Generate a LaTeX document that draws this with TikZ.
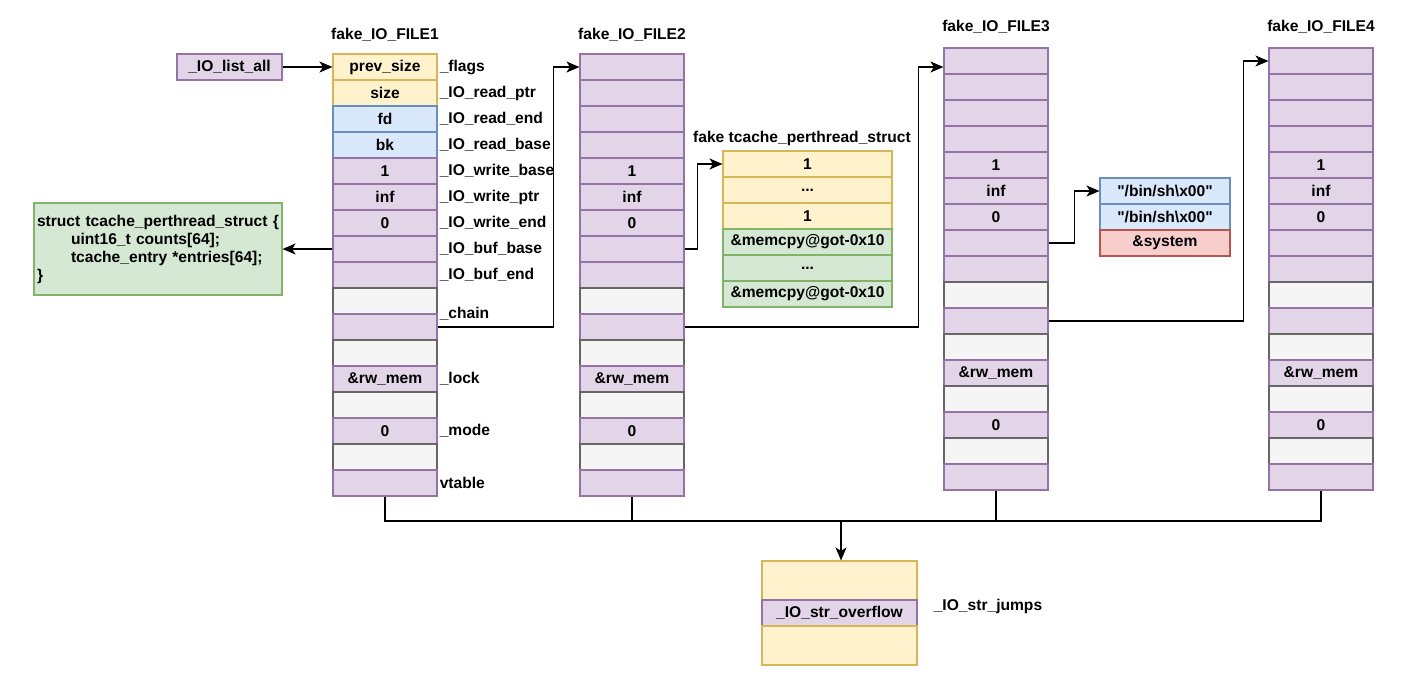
\documentclass[tikz,border=0pt]{standalone}
\usepackage{fontspec}
\setmainfont{Liberation Sans}
\usetikzlibrary{arrows.meta}

\definecolor{purfill}{HTML}{E1D5E7}
\definecolor{purline}{HTML}{9673A6}
\definecolor{yelfill}{HTML}{FFF2CC}
\definecolor{yelline}{HTML}{D6B656}
\definecolor{blufill}{HTML}{DAE8FC}
\definecolor{bluline}{HTML}{6C8EBF}
\definecolor{grnfill}{HTML}{D5E8D4}
\definecolor{grnline}{HTML}{82B366}
\definecolor{redfill}{HTML}{F8CECC}
\definecolor{redline}{HTML}{B85450}
\definecolor{gryfill}{HTML}{F5F5F5}
\definecolor{gryline}{HTML}{666666}

\newcommand\skipdots{...}

\tikzset{
  cell/.style={draw, line width=1.1pt, minimum width=104pt, minimum height=26pt, inner sep=0pt},
  pur/.style={cell, fill=purfill, draw=purline},
  yel/.style={cell, fill=yelfill, draw=yelline},
  blu/.style={cell, fill=blufill, draw=bluline},
  grn/.style={cell, fill=grnfill, draw=grnline},
  red/.style={cell, fill=redfill, draw=redline},
  gry/.style={cell, fill=gryfill, draw=gryline},
  fld/.style={anchor=west, inner sep=2pt},
  link/.style={line width=1.1pt, -{Stealth[length=13pt,width=11pt,inset=3.5pt]}},
  wire/.style={line width=1.1pt},
}

\begin{document}
\begin{tikzpicture}[x=1pt,y=-1pt,font=\fontsize{15.6}{18}\selectfont\bfseries]
\useasboundingbox (0,0) rectangle (1421,673);

% the four fake FILE structures
\foreach \sty/\txt [count=\i] in {yel/prev\_size, yel/size, blu/fd, blu/bk, pur/1, pur/inf, pur/0, pur/{}, pur/{},
    gry/{}, pur/{}, gry/{}, pur/\&rw\_mem, gry/{}, pur/0, gry/{}, pur/{}}
  \node[\sty] (f1-\i) at (385,41+26*\i) {\txt};
\foreach \f/\x/\y in {2/632/54, 3/996/48, 4/1321/48}
  \foreach \sty/\txt [count=\i] in {pur/{}, pur/{}, pur/{}, pur/{}, pur/1, pur/inf, pur/0, pur/{}, pur/{},
      gry/{}, pur/{}, gry/{}, pur/\&rw\_mem, gry/{}, pur/0, gry/{}, pur/{}}
    \node[\sty] (f\f-\i) at (\x,\y-13+26*\i) {\txt};

\node (t1) at (385,35) {fake\_IO\_FILE1};
\node (t2) at (632,35) {fake\_IO\_FILE2};
\node (t3) at (996,27) {fake\_IO\_FILE3};
\node (t4) at (1321,27) {fake\_IO\_FILE4};

% field names
\foreach \i/\txt in {1/\_flags, 2/\_IO\_read\_ptr, 3/\_IO\_read\_end, 4/\_IO\_read\_base, 5/\_IO\_write\_base,
    6/\_IO\_write\_ptr, 7/\_IO\_write\_end, 8/\_IO\_buf\_base, 9/\_IO\_buf\_end, 13/\_lock, 15/\_mode, 17/vtable}
  \node[fld] (l\i) at (f1-\i.east) {\txt};
\node[fld] (lchain) at (f1-11.north east) {\_chain};

% _IO_list_all and the real tcache struct
\node[pur, minimum width=105pt] (listall) at (229.5,67) {\_IO\_list\_all};
\node[grn, minimum width=248pt, minimum height=92pt, text width=242pt, align=left, inner sep=3pt] (tstruct) at (158,249)
  {struct tcache\_perthread\_struct \{\\
   \hspace*{34pt}uint16\_t counts[64];\\
   \hspace*{34pt}tcache\_entry *entries[64];\\
   \}};

% fake tcache_perthread_struct
\node (tctitle) at (802,138) {fake tcache\_perthread\_struct};
\foreach \sty/\txt [count=\i] in {yel/1, yel/\skipdots, yel/1, grn/\&memcpy@got-0x10, grn/\skipdots, grn/\&memcpy@got-0x10}
  \node[\sty, minimum width=169pt] (tc-\i) at (807.5,151-13+26*\i) {\txt};

% /bin/sh and system
\node[blu, minimum width=130pt] (sh1) at (1165,191) {\textquotedbl/bin/sh\textbackslash x00\textquotedbl};
\node[blu, minimum width=130pt] (sh2) at (1165,217) {\textquotedbl/bin/sh\textbackslash x00\textquotedbl};
\node[red, minimum width=130pt] (sys) at (1165,243) {\&system};

% _IO_str_jumps
\node[yel, minimum width=155pt, minimum height=39pt] (j1) at (839.5,580.5) {};
\node[pur, minimum width=155pt] (j2) at (839.5,613) {\_IO\_str\_overflow};
\node[yel, minimum width=155pt, minimum height=39pt] (j3) at (839.5,645.5) {};
\node (jl) at (988,606) {\_IO\_str\_jumps};

% pointers
\draw[link] (listall) -- (f1-1);
\draw[link] (f1-8.west) -- (tstruct.east);
\draw[link] (f1-11.east) -- ++(116,0) |- (f2-1.west);
\draw[link] (f2-8.east) -- ++(13,0) |- (tc-1.west);
\draw[link] (f2-11.east) -- ++(234,0) |- ([yshift=-6pt]f3-1.west);
\draw[link] (f3-8.east) -- ++(26,0) |- (sh1.west);
\draw[link] (f3-11.east) -- ++(195,0) |- (f4-1.west);

% vtables all point to _IO_str_jumps
\coordinate (bus) at (841,521);
\draw[wire] (f1-17.south) |- (f4-17.south |- bus) -- (f4-17.south);
\draw[wire] (f2-17.south) -- (f2-17.south |- bus);
\draw[wire] (f3-17.south) -- (f3-17.south |- bus);
\draw[link] (bus) -- (bus |- j1.north);
\end{tikzpicture}
\end{document}
